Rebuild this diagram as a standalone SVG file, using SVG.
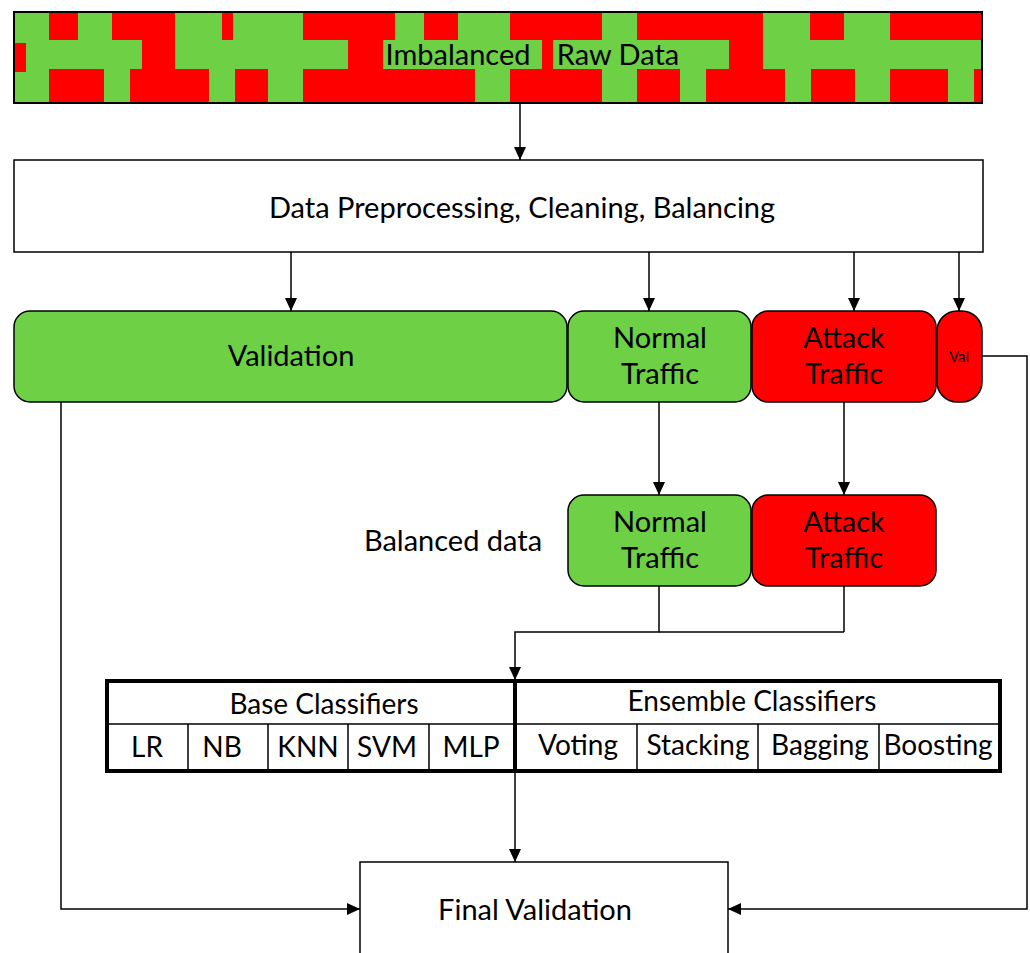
<svg xmlns="http://www.w3.org/2000/svg" width="1030" height="953" viewBox="0 0 1030 953">
<defs>
<style>
.g{fill:#6DD045}
.r{fill:#FF0000}
.t{font-family:Lato,"Liberation Sans",sans-serif;fill:#000;text-anchor:middle}
.ln{fill:none;stroke:#000;stroke-width:1.5}
.bx{stroke:#000;stroke-width:1.5}
.cell{fill:none;stroke:#000;stroke-width:1.5}
</style>
<marker id="ah" markerUnits="userSpaceOnUse" markerWidth="14" markerHeight="12" refX="13" refY="6" orient="auto">
<path d="M0,0 L13,6 L0,12 z" fill="#000"/>
</marker>
</defs>
<rect width="1030" height="953" fill="#fff"/>

<g id="raw-data">
<rect x="14" y="12" width="968" height="91" class="g"/>
<rect class="r" x="49" y="12" width="29" height="28"/>
<rect class="r" x="112" y="12" width="63" height="28"/>
<rect class="r" x="222" y="12" width="11" height="28"/>
<rect class="r" x="303" y="12" width="92" height="28"/>
<rect class="r" x="424" y="12" width="34" height="28"/>
<rect class="r" x="510" y="12" width="92" height="28"/>
<rect class="r" x="637" y="12" width="126" height="28"/>
<rect class="r" x="810" y="12" width="34" height="28"/>
<rect class="r" x="890" y="12" width="92" height="28"/>
<rect class="r" x="14" y="43" width="12" height="29"/>
<rect class="r" x="142" y="40" width="33" height="29"/>
<rect class="r" x="348" y="40" width="35" height="29"/>
<rect class="r" x="542" y="40" width="11" height="29"/>
<rect class="r" x="729" y="40" width="34" height="29"/>
<rect class="r" x="49" y="69" width="55" height="34"/>
<rect class="r" x="130" y="69" width="79" height="34"/>
<rect class="r" x="235" y="69" width="33" height="34"/>
<rect class="r" x="303" y="69" width="172" height="34"/>
<rect class="r" x="510" y="69" width="92" height="34"/>
<rect class="r" x="637" y="69" width="43" height="34"/>
<rect class="r" x="706" y="69" width="79" height="34"/>
<rect class="r" x="811" y="69" width="44" height="34"/>
<rect class="r" x="890" y="69" width="58" height="34"/>
<rect class="r" x="974" y="69" width="8" height="34"/>
<rect x="14" y="12" width="968" height="91" fill="none" stroke="#000" stroke-width="2"/>
<text class="t" x="458" y="65" font-size="29">Imbalanced</text>
<text class="t" x="618" y="65" font-size="29">Raw Data</text>
</g>

<g id="preprocessing">
<rect x="14" y="160" width="969" height="92" fill="#fff" class="bx"/>
<text class="t" x="522" y="218" font-size="29">Data Preprocessing, Cleaning, Balancing</text>
</g>

<g id="validation">
<rect x="14" y="311" width="553" height="91" rx="16" class="g bx"/>
<text class="t" x="291" y="366" font-size="29">Validation</text>
</g>
<g id="normal-traffic">
<rect x="568" y="311" width="183" height="91" rx="16" class="g bx"/>
<text class="t" x="660" y="348" font-size="29">Normal</text>
<text class="t" x="660" y="384" font-size="29">Traffic</text>
</g>
<g id="attack-traffic">
<rect x="752" y="311" width="184" height="91" rx="16" class="r bx"/>
<text class="t" x="844" y="348" font-size="29">Attack</text>
<text class="t" x="844" y="384" font-size="29">Traffic</text>
</g>
<g id="val">
<rect x="937" y="311" width="45" height="91" rx="20" class="r bx"/>
<text class="t" x="959" y="362" font-size="15">Val</text>
</g>

<g id="balanced-label">
<text class="t" x="453" y="551" font-size="29">Balanced data</text>
</g>
<g id="balanced-normal">
<rect x="568" y="495" width="183" height="91" rx="16" class="g bx"/>
<text class="t" x="660" y="532" font-size="29">Normal</text>
<text class="t" x="660" y="568" font-size="29">Traffic</text>
</g>
<g id="balanced-attack">
<rect x="752" y="495" width="184" height="91" rx="16" class="r bx"/>
<text class="t" x="844" y="532" font-size="29">Attack</text>
<text class="t" x="844" y="568" font-size="29">Traffic</text>
</g>

<g id="classifiers">
<rect x="107" y="681" width="893" height="90" fill="#fff"/>
<line class="cell" x1="107" y1="724" x2="1000" y2="724"/>
<line class="cell" x1="188" y1="724" x2="188" y2="771"/>
<line class="cell" x1="268" y1="724" x2="268" y2="771"/>
<line class="cell" x1="348" y1="724" x2="348" y2="771"/>
<line class="cell" x1="429" y1="724" x2="429" y2="771"/>
<line class="cell" x1="637" y1="724" x2="637" y2="771"/>
<line class="cell" x1="758" y1="724" x2="758" y2="771"/>
<line class="cell" x1="879" y1="724" x2="879" y2="771"/>
<rect x="107" y="681" width="893" height="90" fill="none" stroke="#000" stroke-width="4"/>
<line x1="515" y1="681" x2="515" y2="771" stroke="#000" stroke-width="4"/>
<text class="t" x="324" y="714" font-size="28">Base Classifiers</text>
<text class="t" x="752" y="711" font-size="28">Ensemble Classifiers</text>
<text class="t" x="147" y="757" font-size="28">LR</text>
<text class="t" x="222" y="757" font-size="28">NB</text>
<text class="t" x="308" y="757" font-size="28">KNN</text>
<text class="t" x="387" y="757" font-size="28">SVM</text>
<text class="t" x="471" y="757" font-size="28">MLP</text>
<text class="t" x="578" y="755" font-size="28">Voting</text>
<text class="t" x="698" y="755" font-size="28">Stacking</text>
<text class="t" x="820" y="755" font-size="28">Bagging</text>
<text class="t" x="938" y="755" font-size="28">Boosting</text>
</g>

<g id="final-validation">
<rect x="360" y="862" width="368" height="110" fill="#fff" class="bx"/>
<text class="t" x="535" y="920" font-size="29">Final Validation</text>
</g>

<g id="connectors">
<line class="ln" x1="520" y1="103" x2="520" y2="160" marker-end="url(#ah)"/>
<line class="ln" x1="291" y1="252" x2="291" y2="311" marker-end="url(#ah)"/>
<line class="ln" x1="649" y1="252" x2="649" y2="311" marker-end="url(#ah)"/>
<line class="ln" x1="854" y1="252" x2="854" y2="311" marker-end="url(#ah)"/>
<line class="ln" x1="959" y1="252" x2="959" y2="311" marker-end="url(#ah)"/>
<line class="ln" x1="659" y1="402" x2="659" y2="495" marker-end="url(#ah)"/>
<line class="ln" x1="844" y1="402" x2="844" y2="495" marker-end="url(#ah)"/>
<polyline class="ln" points="659,586 659,632 515,632 515,680" marker-end="url(#ah)"/>
<line class="ln" x1="844" y1="586" x2="844" y2="632"/>
<line class="ln" x1="659" y1="632" x2="844" y2="632"/>
<line class="ln" x1="515" y1="771" x2="515" y2="862" marker-end="url(#ah)"/>
<polyline class="ln" points="61,402 61,909 360,909" marker-end="url(#ah)"/>
<polyline class="ln" points="982,356 1027,356 1027,909 728,909" marker-end="url(#ah)"/>
</g>
</svg>
